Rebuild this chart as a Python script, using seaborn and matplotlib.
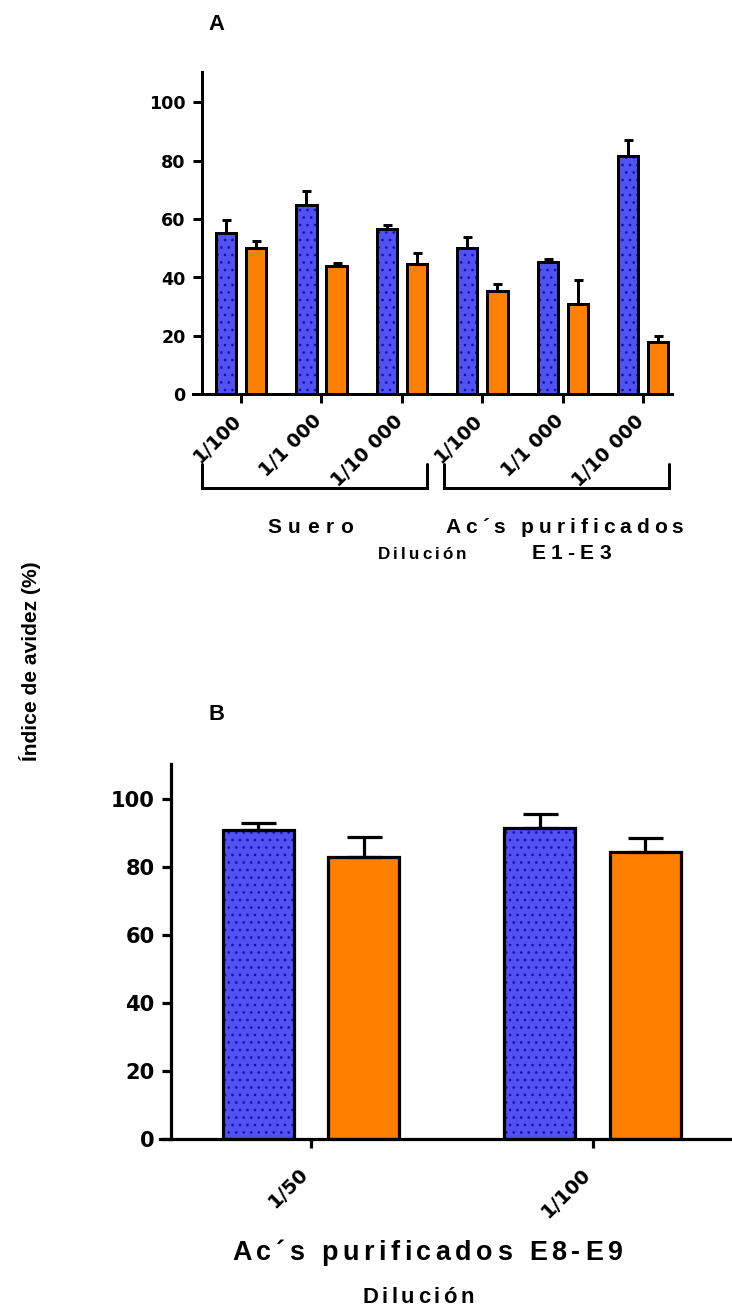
import numpy as np
import pandas as pd
import matplotlib
matplotlib.use("Agg")
import matplotlib.pyplot as plt
import matplotlib.transforms as mtransforms
from matplotlib.patches import Rectangle
import seaborn as sns

# ---------------- data ----------------
series = ["Serie 1", "Serie 2"]

groups_a = ["Suero 1/100", "Suero 1/1 000", "Suero 1/10 000",
            "E1-E3 1/100", "E1-E3 1/1 000", "E1-E3 1/10 000"]
ticklabels_a = ["1/100", "1/1 000", "1/10 000", "1/100", "1/1 000", "1/10 000"]
blue_a = [55.2, 64.7, 56.6, 50.2, 45.1, 81.7]
blue_err_a = [4.3, 4.8, 1.2, 3.5, 1.2, 5.2]
orange_a = [50.0, 43.8, 44.6, 35.2, 30.9, 17.7]
orange_err_a = [2.6, 1.1, 3.7, 2.5, 8.3, 2.3]

groups_b = ["1/50", "1/100"]
ticklabels_b = ["1/50", "1/100"]
blue_b = [91.0, 91.5]
blue_err_b = [1.9, 4.1]
orange_b = [82.9, 84.5]
orange_err_b = [6.0, 4.0]

yticks = [0, 20, 40, 60, 80, 100]

# ---------------- style ----------------
DPI = 90
W, H = 732, 1309
PT = 72.0 / DPI  # points per pixel

BLUE = "#5252F2"
DOT = "#1212B4"
ORANGE = "#FF8000"

sns.set_theme(style="ticks")
plt.rcParams["font.family"] = ["DejaVu Sans"]
plt.rcParams["hatch.linewidth"] = 0.9
for k in ["text.color", "axes.labelcolor", "xtick.color", "ytick.color",
          "axes.edgecolor"]:
    plt.rcParams[k] = "black"

fig = plt.figure(figsize=((W + 0.2) / DPI, (H + 0.2) / DPI), dpi=DPI)
fig.patch.set_facecolor("white")


def fx(x):
    return x / W


def fy(y):
    return 1 - y / H


def make_df(groups, blue, orange):
    return pd.DataFrame({
        "grupo": list(groups) * 2,
        "serie": [series[0]] * len(groups) + [series[1]] * len(groups),
        "valor": list(blue) + list(orange),
    })


def panel(box, groups, ticklabels, blue, berr, orange, oerr, xlim, spine_x,
          ytop, lw_px, cap_px, ytick_px, xtick_px, lab_shift):
    left, right, top, bottom = box
    ax = fig.add_axes([fx(left), fy(bottom), (right - left) / W, (bottom - top) / H])
    df = make_df(groups, blue, orange)
    sns.barplot(data=df, x="grupo", y="valor", hue="serie", order=groups,
                hue_order=series, palette=[BLUE, ORANGE], width=0.75, gap=0.33,
                errorbar=None, edgecolor="black", linewidth=lw_px * PT,
                saturation=1, legend=False, ax=ax)
    lw = lw_px * PT
    bars = sorted(ax.patches, key=lambda p: p.get_x())
    errs = []
    for b, o in zip(berr, oerr):
        errs += [b, o]
    for i, p in enumerate(bars):
        is_blue = (i % 2 == 0)
        if is_blue:
            p.set_hatch("..")
            p.set_edgecolor(DOT)
            p.set_linewidth(0)
            ax.add_patch(Rectangle(p.get_xy(), p.get_width(), p.get_height(),
                                   fill=False, edgecolor="black", linewidth=lw,
                                   zorder=2.5))
        xc = p.get_x() + p.get_width() / 2
        ax.errorbar([xc], [p.get_height()], yerr=[[0], [errs[i]]], fmt="none",
                    ecolor="black", elinewidth=lw, capsize=cap_px * PT,
                    capthick=lw, zorder=2.4)
    for s in ["top", "right"]:
        ax.spines[s].set_visible(False)
    for s in ["left", "bottom"]:
        ax.spines[s].set_linewidth(lw)
        ax.spines[s].set_color("black")
    ax.spines["left"].set_position(("data", spine_x))
    ax.set_xlim(*xlim)
    ax.set_ylim(0, ytop)
    ax.set_yticks(yticks)
    ax.set_yticklabels([str(v) for v in yticks], fontsize=ytick_px * PT,
                       fontweight="bold", color="black")
    ax.set_xticks(range(len(groups)))
    ax.set_xticklabels(ticklabels, rotation=45, ha="right", va="top",
                       rotation_mode="anchor", fontsize=xtick_px * PT,
                       fontweight="bold", color="black")
    ax.set_xlabel("")
    ax.set_ylabel("")
    ax.tick_params(axis="both", length=9 * PT, width=lw, color="black",
                   direction="out")
    ax.tick_params(axis="y", pad=7 * PT)
    ax.tick_params(axis="x", pad=5 * PT)
    shift = mtransforms.ScaledTranslation(lab_shift[0] / DPI, lab_shift[1] / DPI,
                                          fig.dpi_scale_trans)
    for lab in ax.get_xticklabels():
        lab.set_transform(lab.get_transform() + shift)
    ax.set_facecolor("none")
    return ax


# Panel A
ax_a = panel((192.7, 672, 71.7, 394.3), groups_a, ticklabels_a, blue_a, blue_err_a,
             orange_a, orange_err_a, (-0.601, 5.361), -0.489, 110.5,
             3.0, 4.5, 17.5, 19, (-9, -3))
# Panel B
ax_b = panel((160, 732, 764, 1139.3), groups_b, ticklabels_b, blue_b, blue_err_b,
             orange_b, orange_err_b, (-0.536, 1.496), -0.498, 110.4,
             3.2, 17.5, 21, 19.5, (-12, -11))

# brackets under panel A (x in group units, y in axes fraction)
trans = mtransforms.blended_transform_factory(ax_a.transData, ax_a.transAxes)
for x0, x1 in [(-0.48, 2.31), (2.52, 5.32)]:
    ax_a.plot([x0, x0, x1, x1], [-0.215, -0.29, -0.29, -0.215], color="black",
              lw=3.0 * PT, transform=trans, clip_on=False, solid_joinstyle="miter")

renderer = fig.canvas.get_renderer()


def spaced_text(s, cx, base, size_px, width_px, family="Liberation Sans"):
    fs = size_px * PT
    widths = []
    for ch in s:
        if ch == " ":
            widths.append(None)
        else:
            t = fig.text(0, 0, ch, fontsize=fs, fontweight="bold", family=family)
            widths.append(t.get_window_extent(renderer).width)
            t.remove()
    space = 0.28 * size_px
    ink = sum(w if w is not None else space for w in widths)
    track = (width_px - ink) / (len(s) - 1)
    x = cx - width_px / 2
    for ch, w in zip(s, widths):
        if w is None:
            x += space + track
            continue
        fig.text(fx(x), fy(base), ch, fontsize=fs, fontweight="bold",
                 family=family, ha="left", va="baseline", color="black")
        x += w + track


# Panel letters
fig.text(fx(208), fy(30), "A", fontsize=22 * PT, fontweight="bold",
         family="Liberation Sans", ha="left", va="baseline")
fig.text(fx(208), fy(720), "B", fontsize=22 * PT, fontweight="bold",
         family="Liberation Sans", ha="left", va="baseline")

# Shared y label
fig.text(fx(30), fy(661), "Índice de avidez (%)", rotation=90, ha="center",
         va="center", fontsize=21 * PT, fontweight="bold", family="Liberation Sans")

# Panel A group labels
spaced_text("Suero", 310, 533, 21, 86)
spaced_text("Ac´s purificados", 564, 533, 21, 238)
spaced_text("E1-E3", 571, 559, 21, 80)
spaced_text("Dilución", 422, 559, 17, 88)

# Panel B labels
spaced_text("Ac´s purificados E8-E9", 427, 1260, 27, 390)
spaced_text("Dilución", 418, 1303, 22, 111)

fig.savefig("out.png", dpi=DPI, facecolor="white")
